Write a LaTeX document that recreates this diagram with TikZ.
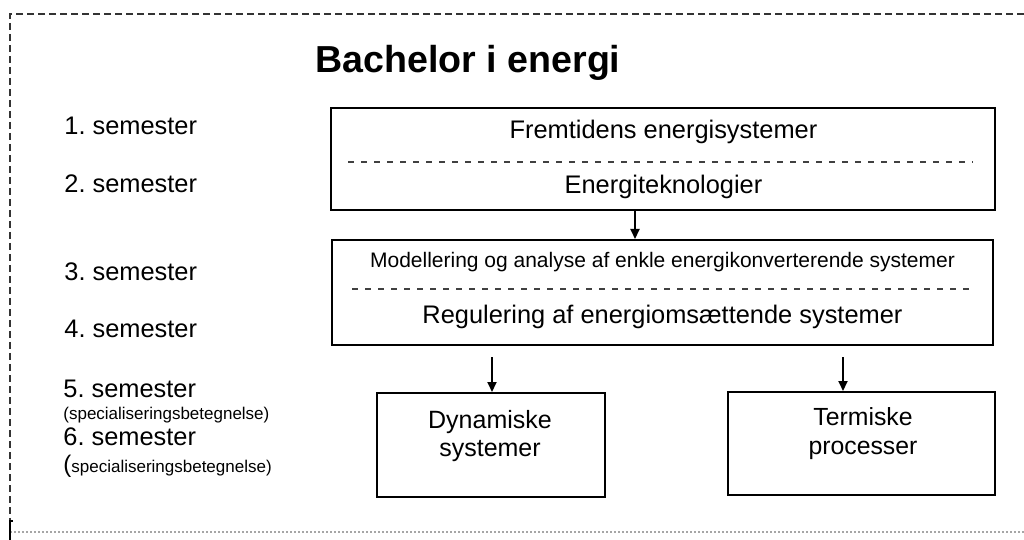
\documentclass[tikz,border=0pt]{standalone}
\usepackage{fontspec}
\setmainfont{Liberation Sans}
\frenchspacing
\usetikzlibrary{arrows.meta,positioning}

\begin{document}
\begin{tikzpicture}[x=0.5pt, y=-0.5pt,
        box/.style = {rectangle, draw, line width = 1pt, inner sep=0pt},
        txt/.style = {inner sep=0pt, anchor=base, font=\fontsize{12.7}{14}\selectfont},
        sem/.style = {txt, anchor=base west},
        spec/.style = {sem, font=\fontsize{8.5}{10}\selectfont},
        skille/.style = {line width=1pt, black!75, dash pattern=on 3.2pt off 3.3pt},
        pil/.style = {line width=1pt, -{Triangle[length=5pt,width=4.5pt]}}]
        \def\px{0.5pt}
        \useasboundingbox (0,0) rectangle (1024,540);

        % ramme
        \draw[line width=0.75pt, black!80, dash pattern=on 3.5pt off 2pt] (1024,14) -- (10,14) -- (10,537);
        \draw[line width=0.6pt, black!35, dash pattern=on 1pt off 1pt] (10,532) -- (1024,532);
        \draw[line width=1.3pt] (13,521) -- (10,521) -- (10,540);

        \node(title) [inner sep=0pt, anchor=base west, font=\fontsize{18.8}{22}\selectfont\bfseries] at (315,73) {Bachelor i energi};

        % semestre
        \node(sem1) [sem] at (64,135) {1. semester};
        \node(sem2) [sem] at (64,193) {2. semester};
        \node(sem3) [sem] at (64,280) {3. semester};
        \node(sem4) [sem] at (64,337) {4. semester};
        \node(sem5) [sem] at (63,397) {5. semester};
        \node(spec5) [spec] at (63,419) {(specialiseringsbetegnelse)};
        \node(sem6) [sem] at (63,445) {6. semester};
        \node(spec6) [spec] at (63,472) {{\fontsize{12}{12}\selectfont(}specialiseringsbetegnelse)};

        % blokke
        \node(box1) [box, minimum width = 664*\px, minimum height = 102*\px] at (663,159) {};
        \draw[skille] (348,161.7) -- (973,161.7);
        \node(fremtid) [txt] at (663.5,139) {Fremtidens energisystemer};
        \node(teknolog) [txt] at (663.5,194) {Energiteknologier};

        \node(box2) [box, minimum width = 661*\px, minimum height = 105*\px] at (662.5,292.5) {};
        \draw[skille] (352,289.3) -- (973,289.3);
        \node(model) [txt, font=\fontsize{10.5}{12}\selectfont] at (662.5,268) {Modellering og analyse af enkle energikonverterende systemer};
        \node(regul) [txt] at (662.5,323) {Regulering af energioms\ae ttende systemer};

        \node(box3) [box, minimum width = 228*\px, minimum height = 104*\px] at (491,445) {};
        \node(dyn) [txt, anchor=north, align=center, font=\fontsize{12.5}{14}\selectfont] at (490,410) {Dynamiske\\systemer};

        \node(box4) [box, minimum width = 267*\px, minimum height = 103*\px] at (861.5,443.5) {};
        \node(term) [txt, anchor=north, align=center, font=\fontsize{12.4}{14.5}\selectfont] at (863,407) {Termiske\\processer};

        % pile
        \coordinate(p1) at (635,0);
        \coordinate(p2) at (492,357);
        \coordinate(p3) at (843,357);
        \draw[pil] (box1.south -| p1) -- (box2.north -| p1);
        \draw[pil] (p2) -- (box3.north -| p2);
        \draw[pil] (p3) -- (box4.north -| p3);
    \end{tikzpicture}
\end{document}
